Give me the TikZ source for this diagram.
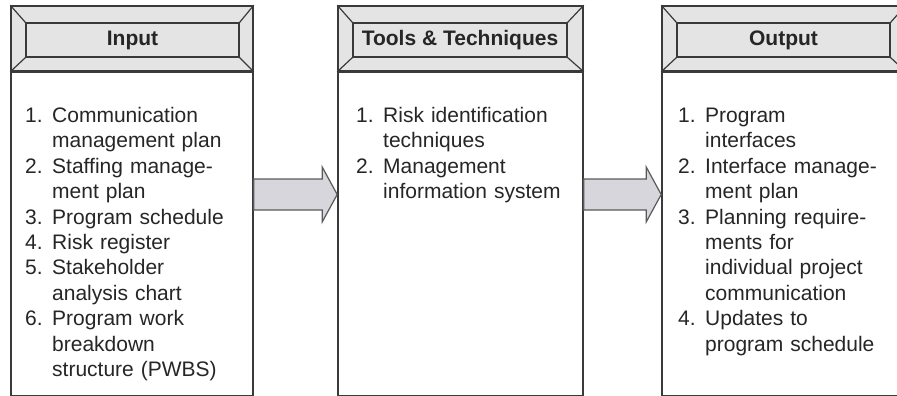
\documentclass[tikz,border=0pt]{standalone}
\usepackage{fontspec}
\setmainfont{Liberation Sans}
\usepackage{xcolor}
\usepackage{tikz}
\usetikzlibrary{calc}
\definecolor{headgray}{HTML}{E4E4E4}
\definecolor{arrowgray}{HTML}{D6D6DC}
\definecolor{linegray}{HTML}{3A3A3A}
\definecolor{arrowline}{HTML}{5A5A5A}
\definecolor{textgray}{HTML}{262626}
\tikzstyle{box}=[fill=white, draw=linegray, shape=rectangle, line width=1.6pt, inner sep=0pt]
\tikzstyle{head box}=[fill=headgray, draw=linegray, shape=rectangle, line width=1.6pt, inner sep=0pt]
\tikzstyle{head title}=[fill=headgray, draw=linegray, shape=rectangle, line width=1.2pt, inner sep=0pt, text=textgray, font=\fontsize{21}{25}\selectfont\bfseries]
\tikzstyle{item list}=[anchor=base west, inner sep=0pt, text width=230pt, align=left, text=textgray, font=\fontsize{21}{25.4}\selectfont]
\tikzstyle{bevel edge}=[-, draw=linegray, line width=1.2pt]
\tikzstyle{base edge}=[-, draw=linegray, line width=3pt]
\tikzstyle{block arrow}=[draw=arrowline, fill=arrowgray, line width=1.2pt, line join=miter]
\newcommand{\itm}[1]{\makebox[27pt][l]{#1}}
\pgfdeclarelayer{nodelayer}
\pgfdeclarelayer{edgelayer}
\pgfsetlayers{nodelayer,edgelayer,main}

\begin{document}
\begin{tikzpicture}[x=1pt, y=-1pt]
	\useasboundingbox (0,0) rectangle (897,396);
	\begin{pgfonlayer}{nodelayer}
		\node [style=box, minimum width=242pt, minimum height=390pt] (0) at (132, 201) {};
		\node [style=box, minimum width=245pt, minimum height=390pt] (1) at (460.5, 201) {};
		\node [style=box, minimum width=243pt, minimum height=390pt] (2) at (783.5, 201) {};
		\node [style=head box, minimum width=242pt, minimum height=65pt] (3) at (132, 38.5) {};
		\node [style=head box, minimum width=245pt, minimum height=65pt] (4) at (460.5, 38.5) {};
		\node [style=head box, minimum width=243pt, minimum height=65pt] (5) at (783.5, 38.5) {};
		\node [style=head title, minimum width=213pt, minimum height=34pt] (6) at (132.5, 40) {Input};
		\node [style=head title, minimum width=214pt, minimum height=34pt] (7) at (460, 40) {Tools \& Techniques};
		\node [style=head title, minimum width=213pt, minimum height=34pt] (8) at (783.5, 40) {Output};
		\node [style=item list] (9) at (25, 122.5) {\itm{1.}Communication\\
			\itm{}management plan\\
			\itm{2.}Staffing manage-\\
			\itm{}ment plan\\
			\itm{3.}Program schedule\\
			\itm{4.}Risk register\\
			\itm{5.}Stakeholder\\
			\itm{}analysis chart\\
			\itm{6.}Program work\\
			\itm{}breakdown\\
			\itm{}structure (PWBS)};
		\node [style=item list] (10) at (356, 122.5) {\itm{1.}Risk identification\\
			\itm{}techniques\\
			\itm{2.}Management\\
			\itm{}information system};
		\node [style=item list] (11) at (678, 122.5) {\itm{1.}Program\\
			\itm{}interfaces\\
			\itm{2.}Interface manage-\\
			\itm{}ment plan\\
			\itm{3.}Planning require-\\
			\itm{}ments for\\
			\itm{}individual project\\
			\itm{}communication\\
			\itm{4.}Updates to\\
			\itm{}program schedule};
		\coordinate (12) at ([yshift=6.5pt]0.east);
		\coordinate (13) at ([yshift=6.5pt]1.west);
		\coordinate (14) at ([yshift=6.5pt]1.east);
		\coordinate (15) at ([yshift=6.5pt]2.west);
	\end{pgfonlayer}
	\begin{pgfonlayer}{edgelayer}
		\foreach \h/\t in {3/6, 4/7, 5/8} {
			\foreach \c in {north west, north east, south west, south east}
				\draw [style=bevel edge] (\h.\c) to (\t.\c);
			\draw [style=base edge] (\h.south west) to (\h.south east);
		}
		\draw [style=block arrow] ($(12)+(0,-15.5)$) -- ($(13)+(-15,-15.5)$) -- ($(13)+(-15,-27.5)$) -- (13)
			-- ($(13)+(-15,27.5)$) -- ($(13)+(-15,15.5)$) -- ($(12)+(0,15.5)$) -- cycle;
		\draw [style=block arrow] ($(14)+(0,-15.5)$) -- ($(15)+(-15,-15.5)$) -- ($(15)+(-15,-27.5)$) -- (15)
			-- ($(15)+(-15,27.5)$) -- ($(15)+(-15,15.5)$) -- ($(14)+(0,15.5)$) -- cycle;
	\end{pgfonlayer}
\end{tikzpicture}
\end{document}
